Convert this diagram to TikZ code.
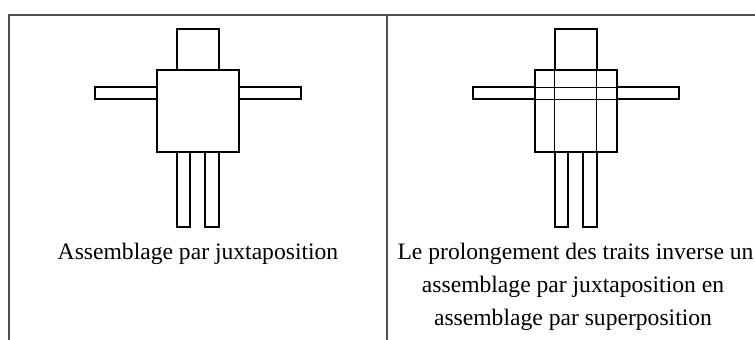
\documentclass[tikz,border=0pt]{standalone}
\usepackage{fontspec}
\setmainfont{Liberation Serif}
\definecolor{framegray}{RGB}{80,80,80}
\begin{document}
\begin{tikzpicture}[x=1pt,y=-1pt,
  figline/.style={draw=black, line width=1.8pt},
  guide/.style={draw=black, line width=0.8pt},
  frameline/.style={draw=framegray, line width=2pt},
  caption/.style={font=\fontsize{23.6}{33}\selectfont, anchor=base, inner sep=0pt},
  pics/personnage/.style={code={
    % head, body, arms and legs
    \draw[figline] (176.7,29.3) rectangle (218.7,70.3);
    \draw[figline] (156.7,70.3) rectangle (239,152.3);
    \draw[figline] (95.3,87.3) rectangle (156.7,99);
    \draw[figline] (239,87.3) rectangle (301,99);
    \draw[figline] (176.7,152.3) rectangle (190,226.7);
    \draw[figline] (205.3,152.3) rectangle (218.7,226.7);
  }}]
\useasboundingbox (0,0) rectangle (755,340);
\fill[white] (0,0) rectangle (755,340);

% table frame
\coordinate (tl) at (8.5,14.7);
\coordinate (tr) at (760,14.7);
\coordinate (bl) at (8.5,341);
\coordinate (mt) at (386.7,14.7);
\coordinate (mb) at (386.7,341);
\draw[frameline] (bl) -- (tl) -- (tr);
\draw[frameline] (mt) -- (mb);

% left cell: juxtaposition
\pic at (0,0) {personnage};
\node[caption] (capA) at (198,259.5) {Assemblage par juxtaposition};

% right cell: the same figure with its lines prolonged across the body
\begin{scope}[xshift=378pt]
  \draw[guide] (176.7,70.3) -- (176.7,152.3);
  \draw[guide] (218.7,70.3) -- (218.7,152.3);
  \draw[guide] (156.7,87.3) -- (239,87.3);
  \draw[guide] (156.7,99) -- (239,99);
  \pic at (0,0) {personnage};
\end{scope}
\node[caption] (capB1) at (575.5,259.5) {Le prolongement des traits inverse un};
\node[caption] (capB2) at (573,292.5) {assemblage par juxtaposition en};
\node[caption] (capB3) at (573,325.5) {assemblage par superposition};
\end{tikzpicture}
\end{document}
